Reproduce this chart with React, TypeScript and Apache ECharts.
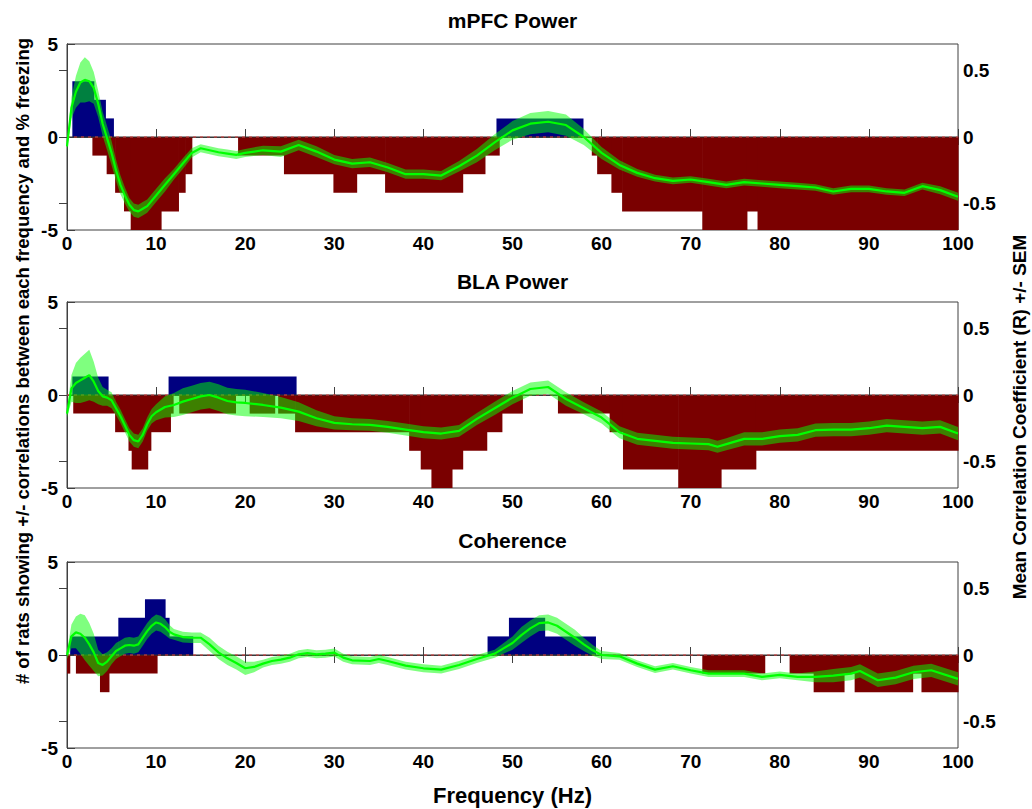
import React, { useEffect, useRef } from "react";
import * as echarts from "echarts";

const FONT = "'Liberation Sans', Arial, Helvetica, sans-serif";

// ---------- data ----------
const panelTitles = ["mPFC Power", "BLA Power", "Coherence"];
const countTicks = [-5, 0, 5];
const corrTicks = [-0.5, 0, 0.5];
const xLabel = "Frequency (Hz)";
const leftLabel = "# of rats showing +/- correlations between each frequency and % freezing";
const rightLabel = "Mean Correlation Coefficient (R) +/- SEM";

// bar segments: [start Hz, end Hz, count]
const mpfcPos = [[0.6, 3.0, 3], [3.0, 4.3, 2], [4.3, 5.2, 1], [48.2, 57.9, 1]];
const mpfcNeg = [
  [2.85, 4.45, -1], [4.45, 5.4, -2], [5.4, 6.4, -3], [6.4, 7.15, -4], [7.15, 10.55, -5],
  [10.55, 12.5, -4], [12.5, 13.25, -3], [13.25, 14.0, -2], [19.2, 24.35, -1], [24.35, 29.9, -2],
  [29.9, 32.5, -3], [32.5, 35.7, -2], [35.7, 44.4, -3], [44.4, 46.9, -2], [46.9, 48.5, -1],
  [58.9, 59.5, -1], [59.5, 61.1, -2], [61.1, 62.3, -3], [62.3, 71.3, -4], [71.3, 76.3, -5],
  [76.3, 77.5, -4], [77.5, 100, -5],
];
const blaPos = [[0.6, 4.6, 1], [11.4, 25.7, 1]];
const blaNeg = [
  [0.7, 5.4, -1], [5.4, 6.9, -2], [6.9, 7.26, -3], [7.26, 9.05, -4], [9.05, 9.4, -3],
  [9.4, 11.6, -2], [11.6, 11.9, -1], [12.6, 18.9, -1], [20.5, 23.3, -1], [23.7, 25.6, -1],
  [25.6, 38.4, -2], [38.4, 39.7, -3], [39.7, 40.9, -4], [40.9, 43.2, -5], [43.2, 44.4, -4],
  [44.4, 47.1, -3], [47.1, 48.8, -2], [48.8, 51.1, -1], [55.1, 60.9, -1], [60.9, 62.4, -2],
  [62.4, 68.6, -4], [68.6, 73.4, -5], [73.4, 77.3, -4], [77.3, 100, -3],
];
const cohPos = [
  [0.35, 5.76, 1], [5.76, 8.75, 2], [8.75, 11.0, 3], [11.0, 11.45, 2], [11.45, 14.1, 1],
  [47.2, 49.6, 1], [49.6, 53.6, 2], [53.6, 59.3, 1],
];
const cohNeg = [
  [0, 0.3, -1], [1.0, 3.7, -1], [3.7, 4.7, -2], [4.7, 10.1, -1], [71.3, 78.3, -1],
  [81.1, 83.8, -1], [83.8, 87.2, -2], [87.2, 88.4, -1], [88.4, 94.9, -2], [94.9, 95.9, -1],
  [95.9, 100, -2],
];

// mean correlation and SEM
const mpfcFreq = [0, 0.5, 1, 1.5, 2, 2.5, 3, 3.5, 4, 4.5, 5, 5.5, 6, 6.5, 7, 7.5, 8, 8.5, 9, 10, 11, 12, 13, 14, 15, 16, 17, 18, 19, 20, 22, 24, 26, 28, 30, 32, 34, 36, 38, 40, 42, 44, 46, 48, 50, 52, 54, 56, 58, 60, 62, 64, 66, 68, 70, 72, 74, 76, 78, 80, 82, 84, 86, 88, 90, 92, 94, 96, 98, 100];
const mpfcMean = [-0.07, 0.22, 0.34, 0.41, 0.43, 0.42, 0.37, 0.25, 0.1, -0.01, -0.12, -0.25, -0.36, -0.44, -0.51, -0.55, -0.56, -0.54, -0.52, -0.44, -0.36, -0.28, -0.2, -0.12, -0.085, -0.1, -0.115, -0.125, -0.135, -0.12, -0.1, -0.11, -0.06, -0.11, -0.17, -0.2, -0.19, -0.23, -0.28, -0.28, -0.29, -0.22, -0.14, -0.04, 0.05, 0.1, 0.115, 0.09, 0.0, -0.12, -0.21, -0.27, -0.31, -0.33, -0.32, -0.34, -0.36, -0.34, -0.35, -0.36, -0.37, -0.38, -0.41, -0.39, -0.39, -0.41, -0.42, -0.37, -0.4, -0.45];
const mpfcSem = [0.03, 0.08, 0.12, 0.15, 0.17, 0.15, 0.12, 0.1, 0.09, 0.09, 0.09, 0.08, 0.07, 0.06, 0.05, 0.05, 0.05, 0.05, 0.05, 0.05, 0.05, 0.04, 0.04, 0.035, 0.03, 0.03, 0.03, 0.03, 0.03, 0.03, 0.035, 0.04, 0.04, 0.04, 0.035, 0.035, 0.035, 0.035, 0.035, 0.035, 0.035, 0.04, 0.05, 0.06, 0.07, 0.08, 0.08, 0.08, 0.06, 0.045, 0.035, 0.03, 0.025, 0.025, 0.025, 0.025, 0.025, 0.025, 0.025, 0.025, 0.025, 0.025, 0.025, 0.025, 0.025, 0.025, 0.025, 0.025, 0.03, 0.03];

const blaFreq = [0, 0.5, 1, 1.5, 2, 2.5, 3, 3.5, 4, 4.5, 5, 5.5, 6, 6.5, 7, 7.5, 8, 8.5, 9, 9.5, 10, 11, 12, 13, 14, 15, 16, 17, 18, 19, 20, 22, 24, 26, 28, 30, 32, 34, 36, 38, 40, 42, 44, 46, 48, 50, 52, 54, 56, 58, 60, 62, 64, 66, 68, 70, 72, 73, 74, 76, 78, 80, 82, 84, 86, 88, 90, 92, 94, 96, 98, 100];
const blaMean = [-0.14, 0.05, 0.09, 0.11, 0.13, 0.15, 0.1, 0.03, -0.01, -0.02, -0.04, -0.1, -0.16, -0.23, -0.3, -0.34, -0.35, -0.3, -0.22, -0.16, -0.13, -0.09, -0.075, -0.05, -0.03, -0.01, 0.0, -0.02, -0.045, -0.055, -0.06, -0.075, -0.095, -0.125, -0.175, -0.21, -0.22, -0.225, -0.24, -0.26, -0.28, -0.29, -0.27, -0.18, -0.1, -0.02, 0.045, 0.06, -0.03, -0.1, -0.17, -0.28, -0.33, -0.345, -0.36, -0.365, -0.37, -0.39, -0.37, -0.33, -0.33, -0.31, -0.3, -0.265, -0.26, -0.26, -0.25, -0.23, -0.24, -0.25, -0.24, -0.29];
const blaSem = [0.03, 0.1, 0.15, 0.17, 0.18, 0.19, 0.15, 0.1, 0.07, 0.06, 0.06, 0.05, 0.05, 0.05, 0.05, 0.05, 0.05, 0.05, 0.05, 0.055, 0.06, 0.08, 0.09, 0.1, 0.1, 0.1, 0.1, 0.1, 0.1, 0.1, 0.1, 0.09, 0.08, 0.07, 0.06, 0.05, 0.045, 0.045, 0.045, 0.045, 0.045, 0.045, 0.045, 0.045, 0.05, 0.05, 0.05, 0.05, 0.05, 0.045, 0.045, 0.045, 0.045, 0.045, 0.045, 0.045, 0.045, 0.045, 0.045, 0.05, 0.05, 0.05, 0.05, 0.05, 0.05, 0.05, 0.05, 0.05, 0.05, 0.05, 0.05, 0.05];

const cohFreq = [0, 0.5, 1, 1.5, 2, 2.5, 3, 3.5, 4, 4.5, 5, 5.5, 6, 6.5, 7, 7.5, 8, 8.5, 9, 9.5, 10, 10.5, 11, 11.5, 12, 13, 14, 15, 16, 17, 18, 19, 20, 21, 22, 23, 24, 25, 26, 27, 28, 29, 30, 31, 32, 34, 35, 36, 38, 40, 42, 44, 46, 48, 50, 51, 52, 53, 54, 55, 56, 57, 58, 59, 60, 62, 64, 66, 68, 70, 72, 74, 76, 78, 80, 82, 84, 86, 88, 89, 91, 93, 95, 97, 100];
const cohMean = [0.0, 0.14, 0.17, 0.16, 0.13, 0.08, 0.02, -0.06, -0.075, -0.05, -0.01, 0.03, 0.05, 0.07, 0.075, 0.07, 0.08, 0.13, 0.18, 0.22, 0.245, 0.235, 0.21, 0.175, 0.155, 0.135, 0.13, 0.13, 0.08, 0.02, -0.025, -0.06, -0.1, -0.09, -0.065, -0.045, -0.035, -0.02, 0.005, 0.015, 0.005, 0.01, 0.018, -0.02, -0.04, -0.045, -0.03, -0.045, -0.08, -0.1, -0.11, -0.075, -0.03, 0.01, 0.09, 0.15, 0.2, 0.24, 0.245, 0.22, 0.175, 0.13, 0.08, 0.035, 0.0, -0.01, -0.065, -0.11, -0.085, -0.115, -0.14, -0.14, -0.14, -0.165, -0.15, -0.165, -0.165, -0.155, -0.14, -0.12, -0.19, -0.17, -0.13, -0.115, -0.18];
const cohSem = [0.03, 0.09, 0.12, 0.15, 0.17, 0.16, 0.14, 0.1, 0.08, 0.07, 0.06, 0.06, 0.06, 0.06, 0.06, 0.06, 0.06, 0.06, 0.06, 0.06, 0.06, 0.06, 0.06, 0.05, 0.04, 0.04, 0.04, 0.04, 0.05, 0.05, 0.05, 0.05, 0.05, 0.04, 0.03, 0.03, 0.03, 0.03, 0.03, 0.03, 0.03, 0.03, 0.03, 0.03, 0.03, 0.03, 0.03, 0.03, 0.03, 0.03, 0.03, 0.03, 0.03, 0.03, 0.05, 0.06, 0.06, 0.06, 0.06, 0.06, 0.06, 0.06, 0.05, 0.04, 0.03, 0.025, 0.025, 0.025, 0.025, 0.025, 0.025, 0.025, 0.025, 0.025, 0.025, 0.025, 0.04, 0.05, 0.05, 0.05, 0.05, 0.05, 0.05, 0.05, 0.05];

const panels = [
  { title: panelTitles[0], pos: mpfcPos, neg: mpfcNeg, freq: mpfcFreq, mean: mpfcMean, sem: mpfcSem },
  { title: panelTitles[1], pos: blaPos, neg: blaNeg, freq: blaFreq, mean: blaMean, sem: blaSem },
  { title: panelTitles[2], pos: cohPos, neg: cohNeg, freq: cohFreq, mean: cohMean, sem: cohSem },
];

// ---------- layout ----------
const GRID_LEFT = 67;
const GRID_WIDTH = 891;
const GRID_TOPS = [44, 302, 562];
const TITLE_Y = [20, 281, 540];
const GRID_H = 186;
const AXIS_COLOR = "#404040";
const BLUE = "#000080";
const RED = "#7a0000";

function barRenderer(color: string) {
  return (params: any, api: any) => {
    const x0 = api.value(0);
    const x1 = api.value(1);
    const v = api.value(2);
    const p0 = api.coord([x0, 0]);
    const p1 = api.coord([x1, v]);
    return {
      type: "rect",
      shape: {
        x: p0[0],
        y: Math.min(p0[1], p1[1]),
        width: p1[0] - p0[0] + 0.6,
        height: Math.abs(p1[1] - p0[1]),
      },
      style: { fill: color },
    };
  };
}

function bandRenderer(freq: number[], mean: number[], sem: number[]) {
  return (params: any, api: any) => {
    if (params.dataIndex !== 0) return null;
    const pts: number[][] = [];
    for (let i = 0; i < freq.length; i++) pts.push(api.coord([freq[i], mean[i] + sem[i]]));
    for (let i = freq.length - 1; i >= 0; i--) pts.push(api.coord([freq[i], mean[i] - sem[i]]));
    return {
      type: "polygon",
      shape: { points: pts },
      style: { fill: "rgba(0,255,0,0.5)" },
    };
  };
}

function buildOption() {
  const grid: any[] = [];
  const xAxis: any[] = [];
  const yAxis: any[] = [];
  const series: any[] = [];
  const graphic: any[] = [];
  const labelStyle = { color: "#000", fontFamily: FONT, fontWeight: "bold", fontSize: 19 };

  panels.forEach((p, k) => {
    grid.push({
      left: GRID_LEFT,
      top: GRID_TOPS[k],
      width: GRID_WIDTH,
      height: GRID_H,
      show: true,
      borderColor: AXIS_COLOR,
      borderWidth: 1,
      backgroundColor: "transparent",
    });
    xAxis.push({
      type: "value",
      gridIndex: k,
      min: 0,
      max: 100,
      interval: 10,
      position: "bottom",
      axisLine: { show: true, lineStyle: { color: AXIS_COLOR } },
      axisTick: { show: true, inside: true, length: 8, lineStyle: { color: AXIS_COLOR } },
      axisLabel: { ...labelStyle, margin: 4 },
      splitLine: { show: false },
    });
    xAxis.push({
      type: "value",
      gridIndex: k,
      min: 0,
      max: 100,
      interval: 10,
      position: "top",
      axisLine: { show: true, lineStyle: { color: AXIS_COLOR } },
      axisTick: { show: true, inside: true, length: 8, lineStyle: { color: AXIS_COLOR } },
      axisLabel: { show: false },
      splitLine: { show: false },
    });
    yAxis.push({
      type: "value",
      gridIndex: k,
      min: -5,
      max: 5,
      interval: 5,
      position: "left",
      axisLine: { show: true, lineStyle: { color: AXIS_COLOR } },
      axisTick: { show: true, inside: true, length: 8, lineStyle: { color: AXIS_COLOR } },
      axisLabel: { ...labelStyle, margin: 9, customValues: countTicks },
      splitLine: { show: false },
    });
    yAxis.push({
      type: "value",
      gridIndex: k,
      min: -0.7,
      max: 0.7,
      position: "right",
      axisLine: { show: true, lineStyle: { color: AXIS_COLOR } },
      axisTick: { show: true, inside: true, length: 8, lineStyle: { color: AXIS_COLOR }, customValues: corrTicks },
      axisLabel: { ...labelStyle, margin: 5, customValues: corrTicks },
      splitLine: { show: false },
    });

    const xb = 2 * k;
    const yl = 2 * k;
    const yr = 2 * k + 1;

    series.push({
      type: "custom",
      xAxisIndex: xb,
      yAxisIndex: yl,
      renderItem: barRenderer(RED),
      encode: { x: [0, 1], y: 2 },
      data: p.neg,
      z: 1,
      silent: true,
    });
    series.push({
      type: "custom",
      xAxisIndex: xb,
      yAxisIndex: yl,
      renderItem: barRenderer(BLUE),
      encode: { x: [0, 1], y: 2 },
      data: p.pos,
      z: 1,
      silent: true,
    });
    series.push({
      type: "line",
      xAxisIndex: xb,
      yAxisIndex: yl,
      data: [[0, 0], [100, 0]],
      symbol: "none",
      lineStyle: { color: "#333", width: 1 },
      z: 2,
      silent: true,
    });
    series.push({
      type: "line",
      xAxisIndex: xb,
      yAxisIndex: yl,
      data: [[0, 0], [100, 0]],
      symbol: "none",
      lineStyle: { color: "#e04040", width: 1, type: [3, 4] },
      z: 2,
      silent: true,
    });
    series.push({
      type: "custom",
      xAxisIndex: xb,
      yAxisIndex: yr,
      renderItem: bandRenderer(p.freq, p.mean, p.sem),
      encode: { x: 0, y: [1, 2] },
      data: p.freq.map((f, i) => [f, p.mean[i] - p.sem[i], p.mean[i] + p.sem[i]]),
      z: 3,
      silent: true,
    });
    series.push({
      type: "line",
      xAxisIndex: xb,
      yAxisIndex: yr,
      data: p.freq.map((f, i) => [f, p.mean[i]]),
      symbol: "none",
      showSymbol: false,
      lineStyle: { color: "#00ff00", width: 2.2 },
      z: 4,
      silent: true,
    });

    graphic.push({
      type: "text",
      x: GRID_LEFT + GRID_WIDTH / 2,
      y: TITLE_Y[k],
      style: {
        text: p.title,
        fill: "#000",
        font: `bold 21px ${FONT}`,
        align: "center",
        verticalAlign: "middle",
      },
    });
  });

  graphic.push({
    type: "text",
    x: GRID_LEFT + GRID_WIDTH / 2,
    y: 795,
    style: { text: xLabel, fill: "#000", font: `bold 22px ${FONT}`, align: "center", verticalAlign: "middle" },
  });
  graphic.push({
    type: "text",
    x: 22,
    y: 361,
    rotation: Math.PI / 2,
    style: { text: leftLabel, fill: "#000", font: `bold 18.5px ${FONT}`, align: "center", verticalAlign: "middle" },
  });
  graphic.push({
    type: "text",
    x: 1019,
    y: 417,
    rotation: Math.PI / 2,
    style: { text: rightLabel, fill: "#000", font: `bold 19px ${FONT}`, align: "center", verticalAlign: "middle" },
  });

  return {
    animation: false,
    backgroundColor: "#fff",
    grid,
    xAxis,
    yAxis,
    series,
    graphic,
  };
}

export default function App() {
  const ref = useRef<HTMLDivElement>(null);
  useEffect(() => {
    if (!ref.current) return;
    const chart = echarts.init(ref.current, undefined, { renderer: "svg" });
    chart.setOption(buildOption() as any);
    return () => chart.dispose();
  }, []);
  return (
    <div
      ref={ref}
      style={{ position: "absolute", left: 0, top: 0, width: 1032, height: 809, background: "#fff" }}
    />
  );
}
